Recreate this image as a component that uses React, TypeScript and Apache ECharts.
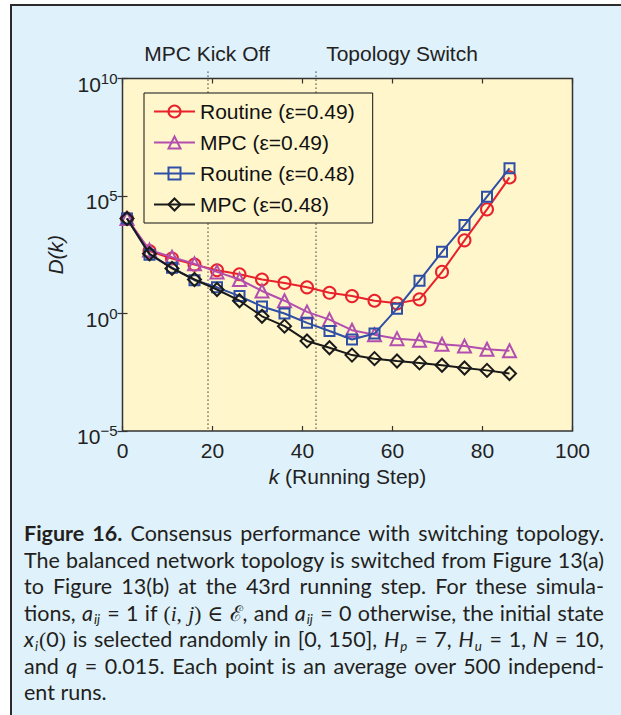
import React, { useEffect, useRef } from "react";
import * as echarts from "echarts";

// ---- data ----
const steps = [1, 6, 11, 16, 21, 26, 31, 36, 41, 46, 51, 56, 61, 66, 71, 76, 81, 86];
const routine049 = [1.1e4, 4.5e2, 2.2e2, 1.2e2, 69, 47, 28, 20, 13, 7.6, 5.5, 3.5, 2.7, 4.0, 59, 1.3e3, 2.7e4, 6.2e5];
const mpc049 = [1.1e4, 5.0e2, 2.5e2, 1.3e2, 59, 28, 9.1, 3.5, 1.17, 0.55, 0.195, 0.126, 0.085, 0.072, 0.049, 0.041, 0.03, 0.026];
const routine048 = [1.1e4, 3.2e2, 89, 26, 13, 5.5, 2.0, 1.0, 0.4, 0.18, 0.078, 0.14, 1.6, 25, 4.2e2, 5.8e3, 9.3e4, 1.5e6];
const mpc048 = [1.1e4, 3.5e2, 83, 28, 10.5, 3.5, 0.76, 0.29, 0.068, 0.035, 0.017, 0.012, 0.0095, 0.0079, 0.0063, 0.0048, 0.0038, 0.0028];
const seriesNames = ["Routine (ε=0.49)", "MPC (ε=0.49)", "Routine (ε=0.48)", "MPC (ε=0.48)"];
const xTicks = [0, 20, 40, 60, 80, 100];
const yTicks = [1e-5, 1, 1e5, 1e10];
const eventSteps = [19, 43];
const eventLabels = ["MPC Kick Off", "Topology Switch"];

const FONT = '"Liberation Sans", Arial, Helvetica, sans-serif';
const AXIS_COLOR = "#333333";
const TEXT_COLOR = "#222222";
const AX_FS = 21;

function Chart() {
  const ref = useRef<HTMLDivElement>(null);
  useEffect(() => {
    if (!ref.current) return;
    const chart = echarts.init(ref.current, null, { renderer: "svg" });
    const specs = [
      { data: routine049, color: "#e8212b", symbol: "circle", size: 12 },
      { data: mpc049, color: "#b24fae", symbol: "triangle", size: 13 },
      { data: routine048, color: "#2f4ea6", symbol: "rect", size: 10 },
      { data: mpc048, color: "#1a1a1a", symbol: "diamond", size: 13 },
    ];
    const fmtExp = (v: number) => {
      const e = Math.round(Math.log10(v));
      const s = e < 0 ? "−" + Math.abs(e) : String(e);
      return `{b|10}{s|${s}}`;
    };
    const yLabelRich = {
      b: { fontSize: AX_FS, lineHeight: 24, verticalAlign: "bottom", color: TEXT_COLOR, fontFamily: FONT },
      s: { fontSize: 15, lineHeight: 15, verticalAlign: "top", color: TEXT_COLOR, fontFamily: FONT },
    };
    const tickStyle = { color: AXIS_COLOR, width: 1.2 };
    chart.setOption({
      animation: false,
      textStyle: { fontFamily: FONT },
      grid: {
        left: 122.5,
        top: 78.5,
        right: 48.5,
        bottom: 69,
        show: true,
        backgroundColor: "#fff6cc",
        borderColor: AXIS_COLOR,
        borderWidth: 1.5,
        containLabel: false,
      },
      legend: {
        orient: "vertical",
        left: 144,
        top: 93,
        padding: [8, 18, 8, 9],
        itemWidth: 41,
        itemHeight: 15,
        itemGap: 10,
        backgroundColor: "#fff6cc",
        borderColor: "#111111",
        borderWidth: 1,
        borderRadius: 0,
        selectedMode: false,
        textStyle: { fontSize: 21, lineHeight: 21, color: "#111111", fontFamily: FONT },
        data: seriesNames,
      },
      xAxis: [
        {
          type: "value",
          min: 0,
          max: 100,
          interval: 20,
          axisLine: { show: false },
          axisTick: { show: true, inside: true, length: 5, lineStyle: tickStyle, customValues: xTicks },
          axisLabel: { margin: 9, fontSize: AX_FS, color: TEXT_COLOR, fontFamily: FONT, customValues: xTicks },
          splitLine: { show: false },
          name: "{i|k} (Running Step)",
          nameLocation: "middle",
          nameGap: 31,
          nameTextStyle: {
            fontSize: AX_FS,
            color: TEXT_COLOR,
            fontFamily: FONT,
            rich: { i: { fontStyle: "italic", fontSize: AX_FS, color: TEXT_COLOR, fontFamily: FONT } },
          },
        },
        {
          type: "value",
          position: "top",
          min: 0,
          max: 100,
          interval: 20,
          axisLine: { show: false },
          axisTick: { show: true, inside: true, length: 5, lineStyle: tickStyle, customValues: xTicks },
          axisLabel: { show: false },
          splitLine: { show: false },
        },
      ],
      yAxis: [
        {
          type: "log",
          logBase: 10,
          min: 1e-5,
          max: 1e10,
          axisLine: { show: false },
          axisTick: { show: true, inside: true, length: 5, lineStyle: tickStyle, customValues: yTicks },
          minorTick: { show: false },
          axisLabel: {
            customValues: yTicks,
            margin: 5,
            padding: [8, 0, 0, 0],
            formatter: fmtExp,
            rich: yLabelRich,
          },
          splitLine: { show: false },
          name: "D(k)",
          nameLocation: "middle",
          nameGap: 55,
          nameTextStyle: { fontSize: AX_FS, fontStyle: "italic", color: TEXT_COLOR, fontFamily: FONT },
        },
        {
          type: "log",
          logBase: 10,
          position: "right",
          min: 1e-5,
          max: 1e10,
          axisLine: { show: false },
          axisTick: { show: true, inside: true, length: 5, lineStyle: tickStyle, customValues: yTicks },
          axisLabel: { show: false },
          splitLine: { show: false },
        },
      ],
      series: specs.map((s, idx) => ({
        type: "line",
        name: seriesNames[idx],
        xAxisIndex: 0,
        yAxisIndex: 0,
        data: steps.map((k, i) => [k, s.data[i]]),
        symbol: s.symbol,
        symbolSize: s.size,
        showAllSymbol: true,
        lineStyle: { color: s.color, width: 2 },
        itemStyle: { color: "rgba(0,0,0,0)", borderColor: s.color, borderWidth: 2 },
        emphasis: { disabled: true },
        z: 3 + idx,
      })),
    });

    const graphics: any[] = [];
    const labelX = [207, 402];
    eventSteps.forEach((k, i) => {
      const top = chart.convertToPixel({ xAxisIndex: 0, yAxisIndex: 0 }, [k, 1e10]) as number[];
      const bot = chart.convertToPixel({ xAxisIndex: 0, yAxisIndex: 0 }, [k, 1e-5]) as number[];
      graphics.push({
        type: "line",
        z: 1,
        shape: { x1: top[0], y1: top[1] - 7, x2: bot[0], y2: bot[1] },
        style: { stroke: "#333333", lineWidth: 1.2, lineDash: [1.2, 2.8] },
        silent: true,
      });
      graphics.push({
        type: "text",
        x: labelX[i],
        y: 53,
        style: {
          text: eventLabels[i],
          fontSize: AX_FS,
          fontFamily: FONT,
          fill: TEXT_COLOR,
          align: "center",
          verticalAlign: "middle",
        },
        silent: true,
      });
    });
    chart.setOption({ graphic: graphics });

    return () => chart.dispose();
  }, []);
  return <div ref={ref} style={{ position: "absolute", left: 0, top: 0, width: 621, height: 500 }} />;
}

const capFont = 'Lato, "Noto Sans", sans-serif';
const lineStyleJ: React.CSSProperties = { textAlign: "justify", textAlignLast: "justify", height: 26.5, lineHeight: "26.5px" };
const lineStyleL: React.CSSProperties = { textAlign: "left", height: 26.5, lineHeight: "26.5px" };
const mathSerif: React.CSSProperties = { fontFamily: '"Liberation Serif", "DejaVu Serif", serif' };
const subStyle: React.CSSProperties = { fontSize: "0.62em", marginLeft: 1, marginRight: 1, verticalAlign: "-0.3em", lineHeight: 0 };

export default function App() {
  return (
    <div style={{ position: "absolute", left: 0, top: 0, width: 621, height: 715, background: "#ffffff", overflow: "hidden" }}>
      <div
        style={{
          position: "absolute",
          left: 10,
          top: 4,
          width: 640,
          height: 740,
          background: "#dff1fa",
          borderTop: "2px solid #2b2b2b",
          borderLeft: "2px solid #2b2b2b",
        }}
      />
      <Chart />
      <div
        style={{
          position: "absolute",
          left: 24,
          top: 520,
          width: 580,
          fontFamily: capFont,
          fontSize: 21.5,
          color: "#231f20",
        }}
      >
        <div style={lineStyleJ}>
          <b>Figure 16.</b> Consensus performance with switching topology.
        </div>
        <div style={lineStyleJ}>The balanced network topology is switched from Figure 13(a)</div>
        <div style={lineStyleJ}>to Figure 13(b) at the 43rd running step. For these simula-</div>
        <div style={lineStyleJ}>
          tions, <i>a</i>
          <span style={subStyle}>
            <i>ij</i>
          </span>{" "}
          = 1 if <span style={mathSerif}>(<i>i</i>, <i>j</i>) ∈ ℰ</span>, and <i>a</i>
          <span style={subStyle}>
            <i>ij</i>
          </span>{" "}
          = 0 otherwise, the initial state
        </div>
        <div style={lineStyleJ}>
          <i>x</i>
          <span style={subStyle}>
            <i>i</i>
          </span>
          <span style={mathSerif}>(</span>0<span style={mathSerif}>)</span> is selected randomly in [0, 150], <i>H</i>
          <span style={subStyle}>
            <i>p</i>
          </span>{" "}
          = 7, <i>H</i>
          <span style={subStyle}>
            <i>u</i>
          </span>{" "}
          = 1, <i>N</i> = 10,
        </div>
        <div style={lineStyleJ}>
          and <i>q</i> = 0.015. Each point is an average over 500 independ-
        </div>
        <div style={lineStyleL}>ent runs.</div>
      </div>
    </div>
  );
}
